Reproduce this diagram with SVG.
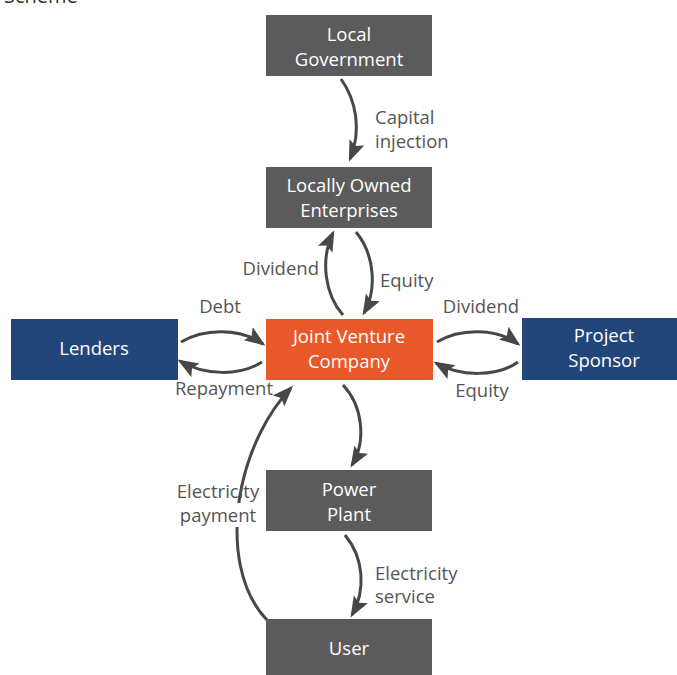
<svg xmlns="http://www.w3.org/2000/svg" width="677" height="675" viewBox="0 0 677 675">
  <defs>
    <marker id="ah" markerUnits="userSpaceOnUse" markerWidth="22" markerHeight="18" refX="18" refY="8" orient="auto">
      <path d="M0,0 L21,8 L0,16 L4,8 z" fill="#474747"/>
    </marker>
    <style>
      .box-gray { fill: #5b5b5b; }
      .box-blue { fill: #22467a; }
      .box-orange { fill: #e8582a; }
      .nt { font-family: "Open Sans", "Liberation Sans", sans-serif; font-size: 18.5px; fill: #ffffff; text-anchor: middle; }
      .lbl { font-family: "Open Sans", "Liberation Sans", sans-serif; font-size: 18.5px; fill: #555555; }
      .c { fill: none; stroke: #474747; stroke-width: 3; marker-end: url(#ah); }
    </style>
  </defs>
  <rect width="677" height="675" fill="#ffffff"/>
  <text class="lbl" x="4" y="3" style="fill:#333333;font-size:20px">Scheme</text>

  <g id="connectors">
    <path class="c" d="M341,79 C356,100 362,130 350,159"/>
    <path class="c" d="M343,315 C325,295 320,260 333,233"/>
    <path class="c" d="M356,232 C375,255 377,290 364,313"/>
    <path class="c" d="M181,342 C205,328 240,328 263,344"/>
    <path class="c" d="M262,362 C240,376 205,376 180,361"/>
    <path class="c" d="M437,342 C460,328 497,328 518,344"/>
    <path class="c" d="M518,362 C497,377 460,377 436,363"/>
    <path class="c" d="M343,385 C362,405 367,440 352,465"/>
    <path class="c" d="M345,535 C364,558 366,590 352,615"/>
    <path class="c" d="M267,620 C240,592 232,545 240,495 C248,450 268,412 291,388"/>
  </g>

  <g id="labels">
    <text class="lbl" x="375" y="124">Capital</text>
    <text class="lbl" x="375" y="148">injection</text>
    <text class="lbl" x="319" y="275" text-anchor="end">Dividend</text>
    <text class="lbl" x="380" y="287">Equity</text>
    <text class="lbl" x="220" y="313" text-anchor="middle">Debt</text>
    <text class="lbl" x="224" y="395" text-anchor="middle">Repayment</text>
    <text class="lbl" x="481" y="313" text-anchor="middle">Dividend</text>
    <text class="lbl" x="482" y="397" text-anchor="middle">Equity</text>
    <rect x="176" y="503" width="84" height="24" fill="#ffffff"/>
    <text class="lbl" x="218" y="498" text-anchor="middle">Electricity</text>
    <text class="lbl" x="218" y="522" text-anchor="middle">payment</text>
    <text class="lbl" x="375" y="580">Electricity</text>
    <text class="lbl" x="375" y="603">service</text>
  </g>

  <g id="local-government">
    <rect class="box-gray" x="266" y="15" width="166" height="61"/>
    <text class="nt" x="349" y="41">Local</text>
    <text class="nt" x="349" y="66">Government</text>
  </g>
  <g id="locally-owned-enterprises">
    <rect class="box-gray" x="266" y="167" width="166" height="61"/>
    <text class="nt" x="349" y="192">Locally Owned</text>
    <text class="nt" x="349" y="217">Enterprises</text>
  </g>
  <g id="joint-venture-company">
    <rect class="box-orange" x="266" y="319" width="167" height="61"/>
    <text class="nt" x="349" y="343">Joint Venture</text>
    <text class="nt" x="349" y="368">Company</text>
  </g>
  <g id="lenders">
    <rect class="box-blue" x="11" y="319" width="167" height="61"/>
    <text class="nt" x="94" y="355">Lenders</text>
  </g>
  <g id="project-sponsor">
    <rect class="box-blue" x="522" y="318" width="155" height="62"/>
    <text class="nt" x="604" y="342">Project</text>
    <text class="nt" x="604" y="367">Sponsor</text>
  </g>
  <g id="power-plant">
    <rect class="box-gray" x="266" y="470" width="166" height="61"/>
    <text class="nt" x="349" y="496">Power</text>
    <text class="nt" x="349" y="521">Plant</text>
  </g>
  <g id="user">
    <rect class="box-gray" x="266" y="619" width="166" height="56"/>
    <text class="nt" x="349" y="655">User</text>
  </g>
</svg>
